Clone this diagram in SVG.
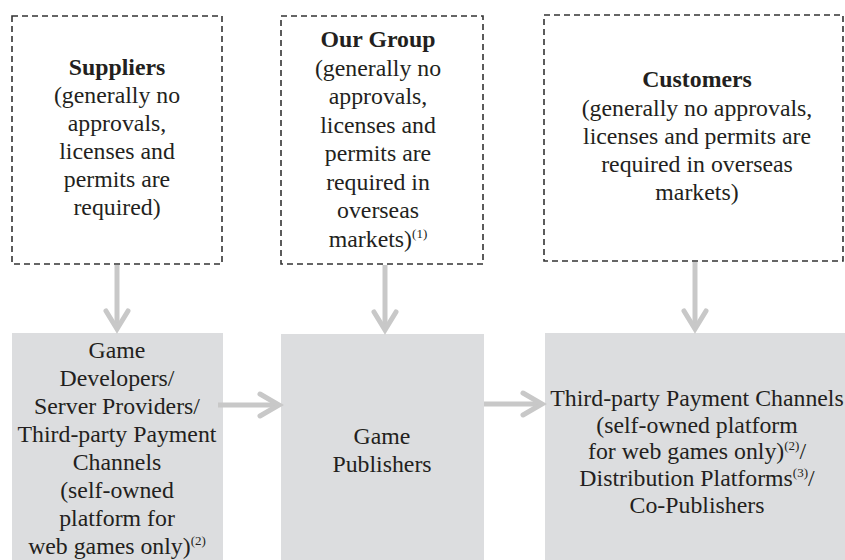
<svg xmlns="http://www.w3.org/2000/svg" width="845" height="560" viewBox="0 0 845 560">
<style>
  .dash { fill: #ffffff; stroke: #333333; stroke-width: 1.6; stroke-dasharray: 6 4; }
  .solid { fill: #dcdddf; stroke: none; }
  text { font-family: "Liberation Serif", "Times New Roman", serif; font-size: 23.8px; fill: #231f20; text-anchor: middle; }
  .b { font-weight: bold; }
  .sup { font-size: 13px; }
  .conn { stroke: #c8c8c8; stroke-width: 5; fill: none; }
  .head { stroke: #c8c8c8; stroke-width: 5; fill: none; stroke-linecap: round; stroke-linejoin: miter; }
</style>
<rect width="845" height="560" fill="#ffffff"/>

<g id="suppliers">
  <rect class="dash" x="12" y="16" width="210" height="248"/>
  <text x="117" y="75"><tspan class="b">Suppliers</tspan></text>
  <text x="117" y="103">(generally no</text>
  <text x="117" y="131">approvals,</text>
  <text x="117" y="159">licenses and</text>
  <text x="117" y="187">permits are</text>
  <text x="117" y="215">required)</text>
</g>

<g id="our-group">
  <rect class="dash" x="281" y="16" width="202" height="248"/>
  <text x="378" y="47"><tspan class="b">Our Group</tspan></text>
  <text x="378" y="75.5">(generally no</text>
  <text x="378" y="104">approvals,</text>
  <text x="378" y="132.5">licenses and</text>
  <text x="378" y="161">permits are</text>
  <text x="378" y="189.5">required in</text>
  <text x="378" y="218">overseas</text>
  <text x="378" y="246.5">markets)<tspan class="sup" dy="-9">(1)</tspan></text>
</g>

<g id="customers">
  <rect class="dash" x="544" y="15" width="299" height="246"/>
  <text x="697" y="87"><tspan class="b">Customers</tspan></text>
  <text x="697" y="115.5">(generally no approvals,</text>
  <text x="697" y="144">licenses and permits are</text>
  <text x="697" y="172">required in overseas</text>
  <text x="697" y="200">markets)</text>
</g>

<g id="game-developers">
  <rect class="solid" x="12" y="333" width="211" height="227"/>
  <text x="117" y="358">Game</text>
  <text x="117" y="386">Developers/</text>
  <text x="117" y="414">Server Providers/</text>
  <text x="117" y="442">Third-party Payment</text>
  <text x="117" y="470">Channels</text>
  <text x="117" y="498">(self-owned</text>
  <text x="117" y="526">platform for</text>
  <text x="117" y="554">web games only)<tspan class="sup" dy="-9">(2)</tspan></text>
</g>

<g id="game-publishers">
  <rect class="solid" x="281" y="334" width="203" height="226"/>
  <text x="382" y="444">Game</text>
  <text x="382" y="472">Publishers</text>
</g>

<g id="distribution">
  <rect class="solid" x="545" y="333" width="300" height="227"/>
  <text x="697" y="406">Third-party Payment Channels</text>
  <text x="697" y="433">(self-owned platform</text>
  <text x="697" y="459">for web games only)<tspan class="sup" dy="-9">(2)</tspan><tspan dy="9">/</tspan></text>
  <text x="697" y="486">Distribution Platforms<tspan class="sup" dy="-9">(3)</tspan><tspan dy="9">/</tspan></text>
  <text x="697" y="513">Co-Publishers</text>
</g>

<g id="connectors">
  <line class="conn" x1="117" y1="265" x2="117" y2="328"/>
  <polyline class="head" points="106,311 117,329 128,311"/>
  <line class="conn" x1="385" y1="265" x2="385" y2="329"/>
  <polyline class="head" points="374,312 385,330 396,312"/>
  <line class="conn" x1="695" y1="262" x2="695" y2="328"/>
  <polyline class="head" points="684,311 695,329 706,311"/>
  <line class="conn" x1="218" y1="405" x2="278" y2="405"/>
  <polyline class="head" points="260,394 279,405 260,416"/>
  <line class="conn" x1="484" y1="404" x2="541" y2="404"/>
  <polyline class="head" points="523,393 542,404 523,415"/>
</g>
</svg>
